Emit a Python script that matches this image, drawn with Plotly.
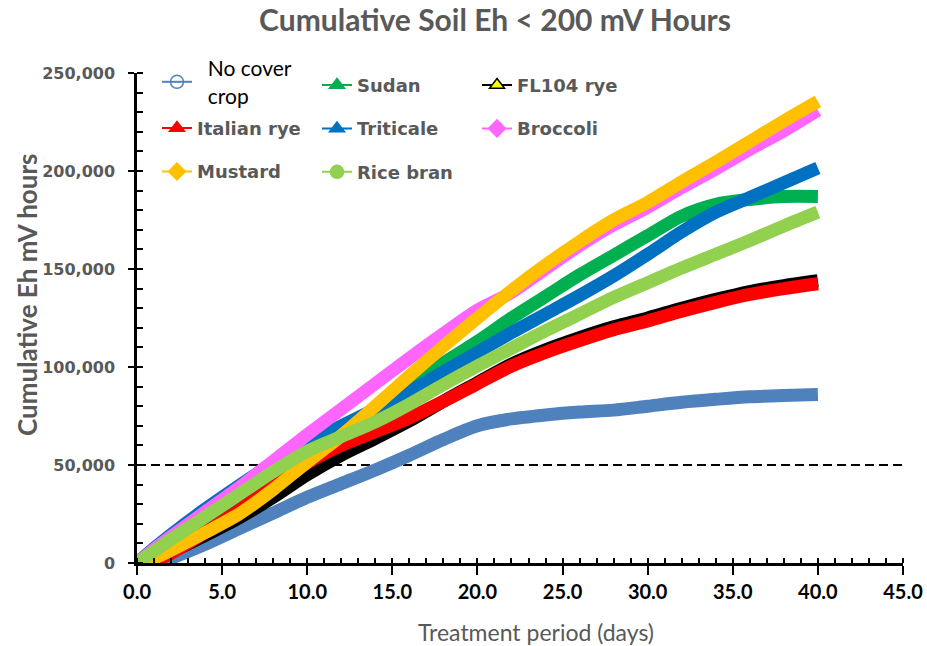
import plotly.graph_objects as go

# ------------------------------------------------------------
# Data — cumulative Eh < 200 mV hours
# ------------------------------------------------------------
DAYS = [0, 1, 2, 4, 6, 8, 10, 12, 14, 16, 18, 20, 22, 24, 26, 28, 30, 32, 34, 36, 38, 40]

NO_COVER  = [0, 0, 2500, 9500, 17500, 25500, 33500, 40500, 47500, 55000, 63000, 70000,
             73500, 75500, 77000, 78000, 80000, 82000, 83500, 84800, 85500, 86000]
SUDAN     = [0, 5000, 11000, 22000, 33000, 44000, 55000, 66000, 78000, 90000, 102000, 113000,
             125000, 136000, 147000, 157000, 167000, 177000, 183000, 185500, 187000, 187000]
FL104_RYE = [0, 1500, 5500, 14000, 23000, 33500, 45000, 55000, 63500, 72500, 82500, 92000,
             101500, 108800, 115000, 120500, 125000, 130000, 134500, 138500, 141500, 144000]
ITALIAN   = [0, 1000, 5000, 15500, 27000, 39000, 51000, 60000, 67000, 74000, 82500, 91500,
             100500, 107500, 113500, 119000, 123500, 128500, 133000, 137000, 140000, 142500]
TRITICALE = [0, 7500, 14500, 27500, 39500, 51000, 62000, 70000, 78500, 87500, 97500, 107500,
             117500, 127000, 136500, 146500, 157500, 169000, 179000, 186500, 194000, 201500]
BROCCOLI  = [0, 7000, 13500, 26000, 38500, 52000, 65500, 78500, 91500, 104500, 117000, 129000,
             138000, 150000, 162000, 172500, 181500, 191500, 201000, 211000, 220500, 231000]
MUSTARD   = [0, 2500, 6500, 15500, 25000, 37500, 51500, 65000, 80000, 95500, 110500, 125000,
             139000, 152000, 164000, 175000, 184000, 194500, 204500, 215000, 225500, 235500]
RICE_BRAN = [0, 6000, 12000, 23500, 35000, 46500, 57000, 64500, 72000, 81000, 91000, 100500,
             109500, 118500, 127000, 135500, 143000, 150500, 157500, 164500, 172000, 179000]

THRESHOLD = 50000
X_TICKS = [0, 5, 10, 15, 20, 25, 30, 35, 40, 45]
Y_TICKS = [0, 50000, 100000, 150000, 200000, 250000]

TEXT_GREY = "#595959"
NB = "\u00a0\u00a0"   # indent of the two-line "No cover crop" label

# name, values, line colour, marker symbol, marker fill, marker outline, legend id
SERIES = [
    (NB + "No cover<br>" + NB + "crop", NO_COVER, "#4F81BD", "circle-open", "#4F81BD", "#4F81BD", "legend4"),
    ("Sudan",       SUDAN,     "#00B050", "triangle-up", "#00B050", "#00B050", "legend2"),
    ("FL104 rye",   FL104_RYE, "#000000", "triangle-up", "#FFFF00", "#000000", "legend3"),
    ("Italian rye", ITALIAN,   "#FF0000", "triangle-up", "#FF0000", "#FF0000", "legend"),
    ("Triticale",   TRITICALE, "#0070C0", "triangle-up", "#0070C0", "#0070C0", "legend2"),
    ("Broccoli",    BROCCOLI,  "#FF66FF", "diamond",     "#FF66FF", "#FF66FF", "legend3"),
    ("Mustard",     MUSTARD,   "#FFC000", "diamond",     "#FFC000", "#FFC000", "legend"),
    ("Rice bran",   RICE_BRAN, "#92D050", "circle",      "#92D050", "#92D050", "legend2"),
]

fig = go.Figure()

# thick data lines (no legend entries)
for name, vals, color, *_ in SERIES:
    fig.add_trace(go.Scatter(
        x=DAYS, y=vals, mode="lines",
        line=dict(color=color, width=13, shape="spline", smoothing=0.8),
        showlegend=False, hoverinfo="skip",
    ))

# legend-only entries: thin line + marker, Excel style
for i, (name, vals, color, symbol, fill, outline, leg) in enumerate(SERIES):
    fig.add_trace(go.Scatter(
        x=[None], y=[None], mode="lines+markers", name=name,
        line=dict(color=color, width=2),
        marker=dict(symbol=symbol, size=13, color=fill,
                    line=dict(color=outline, width=1.5)),
        legend=leg, legendgroup=f"g{i}",
    ))

# empty traces so the overlay axes (crossing major ticks) get drawn
fig.add_trace(go.Scatter(x=[None], y=[None], xaxis="x2", yaxis="y", showlegend=False))
fig.add_trace(go.Scatter(x=[None], y=[None], xaxis="x", yaxis="y2", showlegend=False))

# dashed 50,000 reference line
fig.add_shape(type="line", xref="paper", x0=0, x1=1, yref="y", y0=THRESHOLD, y1=THRESHOLD,
              line=dict(color="black", width=2, dash="9px,5px"), layer="below")

# axis titles sit off-centre in the original, so they are annotations
fig.add_annotation(text="Cumulative Eh mV hours", textangle=-90,
                   xref="paper", yref="paper", x=-0.1436, y=0.547,
                   xanchor="center", yanchor="middle", showarrow=False,
                   font=dict(family="Lato", size=26, color=TEXT_GREY, weight="bold"))
fig.add_annotation(text="Treatment period (days)",
                   xref="paper", yref="paper", x=0.521, y=-0.1408,
                   xanchor="center", yanchor="middle", showarrow=False,
                   font=dict(family="Lato", size=23, color=TEXT_GREY))

legend_common = dict(
    bgcolor="rgba(0,0,0,0)", orientation="v", xanchor="left", yanchor="top",
    traceorder="grouped", itemclick=False, tracegroupgap=17,
    font=dict(family="DejaVu Sans", size=18, color=TEXT_GREY, weight="bold"),
)

fig.update_layout(
    width=927, height=646,
    margin=dict(l=137, r=24, t=73, b=83, autoexpand=False),
    paper_bgcolor="white", plot_bgcolor="white",
    title=dict(
        text="Cumulative Soil Eh &lt; 200 mV Hours",
        font=dict(family="Lato", size=30, color=TEXT_GREY, weight="bold"),
        x=0.534, xref="container", xanchor="center", y=0.968, yref="container", yanchor="middle",
    ),
    xaxis=dict(
        range=[0, 45], tickvals=X_TICKS, tickformat=".1f",
        showgrid=False, zeroline=False,
        showline=True, linecolor="black", linewidth=2.5,
        ticks="outside", ticklen=9, tickwidth=2, tickcolor="black",
        minor=dict(dtick=1, ticks="inside", ticklen=5, tickwidth=1.5, tickcolor="black"),
        tickfont=dict(family="Lato", size=20, color="black", weight="bold"),
    ),
    xaxis2=dict(
        range=[0, 45], overlaying="x", anchor="y", side="bottom",
        tickvals=X_TICKS, showticklabels=False, showgrid=False, zeroline=False, showline=False,
        ticks="inside", ticklen=5, tickwidth=2, tickcolor="black",
    ),
    yaxis=dict(
        range=[0, 250000], tickvals=Y_TICKS, tickformat=",d",
        showgrid=False, zeroline=False,
        showline=True, linecolor="black", linewidth=2.5,
        ticks="outside", ticklen=6, tickwidth=2, tickcolor="black",
        minor=dict(dtick=10000, ticks="inside", ticklen=6, tickwidth=1.5, tickcolor="black"),
        tickfont=dict(family="DejaVu Sans", size=16, color=TEXT_GREY, weight="bold"),
        ticklabelstandoff=10,
    ),
    yaxis2=dict(
        range=[0, 250000], overlaying="y", anchor="x", side="left",
        tickvals=Y_TICKS, showticklabels=False, showgrid=False, zeroline=False, showline=False,
        ticks="inside", ticklen=6, tickwidth=2, tickcolor="black",
    ),
    legend4=dict(**{**legend_common,
                    "font": dict(family="Lato", size=21, color="black")},
                 x=0.0261, y=1.051),
    legend=dict(**legend_common, x=0.0261, y=0.9249),
    legend2=dict(**legend_common, x=0.235, y=1.0127),
    legend3=dict(**legend_common, x=0.4439, y=1.0127),
    showlegend=True,
)

# page body margin would shift the 927x646 figure; remove it
fig.write_html("out.html", config={"displayModeBar": False},
               post_script="document.body.style.margin = '0px';")
